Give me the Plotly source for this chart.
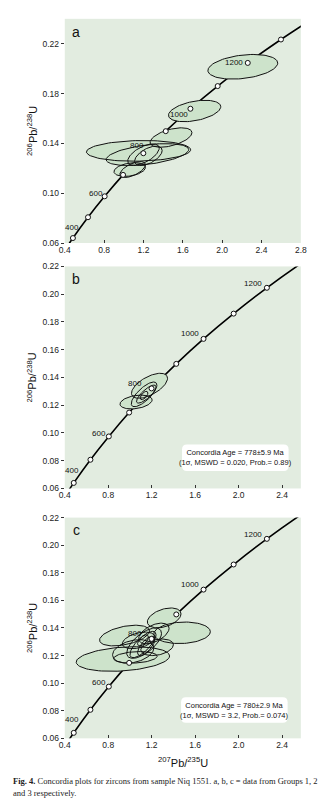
import numpy as np
import plotly.graph_objects as go

# ---------------- data ----------------
# Concordia curve points (age in Ma -> 207Pb/235U, 206Pb/238U)
conc_age = [300, 400, 500, 600, 700, 800, 900, 1000, 1100, 1200, 1300, 1400]
conc_x = [0.3438, 0.4828, 0.6362, 0.8056, 0.9925, 1.1987, 1.4264, 1.6774, 1.9546, 2.2604, 2.5978, 2.9702]
conc_y = [0.0476, 0.0640, 0.0807, 0.0975, 0.1147, 0.1321, 0.1498, 0.1678, 0.1860, 0.2046, 0.2234, 0.2426]
label_ages = [400, 600, 800, 1000, 1200]

# Panel a (Group 1) error ellipses: centre, half-width, half-height, correlation
a_x = [2.21, 1.72, 1.48, 1.15, 1.24, 1.20, 1.25, 1.06, 1.09]
a_y = [0.2015, 0.1660, 0.1447, 0.1340, 0.1310, 0.1310, 0.1300, 0.1190, 0.1190]
a_sx = [0.355, 0.266, 0.213, 0.530, 0.420, 0.160, 0.140, 0.160, 0.130]
a_sy = [0.0099, 0.0086, 0.0078, 0.0083, 0.0088, 0.0086, 0.0078, 0.0055, 0.0064]
a_rho = [0.30, 0.40, 0.50, 0.10, 0.45, 0.60, 0.55, 0.30, 0.60]

# Panel b (Group 2)
b_x = [1.18, 1.056, 1.13, 1.15, 1.13]
b_y = [0.1340, 0.1223, 0.1278, 0.1280, 0.1270]
b_sx = [0.166, 0.148, 0.118, 0.090, 0.035]
b_sy = [0.0090, 0.0050, 0.0089, 0.0065, 0.0030]
b_rho = [0.60, 0.30, 0.75, 0.80, 0.60]

# Panel c (Group 3)
c_x = [0.935, 1.48, 1.315, 0.95, 1.03, 1.05, 1.13, 1.12, 1.22, 1.08, 1.15, 1.12, 1.25]
c_y = [0.1175, 0.1365, 0.1473, 0.1345, 0.1230, 0.1187, 0.1290, 0.1280, 0.1360, 0.1310, 0.1270, 0.1310, 0.1260]
c_sx = [0.430, 0.260, 0.155, 0.230, 0.190, 0.200, 0.160, 0.120, 0.140, 0.150, 0.080, 0.050, 0.150]
c_sy = [0.0089, 0.0078, 0.0072, 0.0075, 0.0085, 0.0042, 0.0110, 0.0095, 0.0075, 0.0060, 0.0070, 0.0040, 0.0060]
c_rho = [0.25, 0.10, 0.40, 0.44, 0.30, 0.20, 0.65, 0.75, 0.50, 0.40, 0.70, 0.60, 0.30]

panel_letters = ["a", "b", "c"]
concordia_texts = [
    None,
    "Concordia Age = 778±5.9 Ma<br>(1σ, MSWD = 0.020, Prob.= 0.89)",
    "Concordia Age = 780±2.9 Ma<br>(1σ, MSWD = 3.2, Prob.= 0.074)",
]
caption_1 = "<b>Fig. 4.</b> Concordia plots for zircons from sample Niq 1551. a, b, c = data from Groups 1, 2"
caption_2 = "and 3 respectively."

# ---------------- styling ----------------
W, H = 329, 811
BG = "#e2ece0"
FILL = "#cde3cb"
FONT = "Liberation Sans, Arial, sans-serif"


def px2paper_x(p):
    return p / W


def px2paper_y(p):
    return 1 - p / H


x_dom = [px2paper_x(61), px2paper_x(306)]
panels = [
    dict(ytop=14, ybot=241, xr=[0.4, 2.8], yr=[0.06, 0.24], ydt=0.04, yfmt=".2f",
         ell=(a_x, a_y, a_sx, a_sy, a_rho), box=None,
         offs={400: (-1, 11), 600: (-9, 3), 800: (-6, 8), 1000: (-11, -6), 1200: (-14, 0)}),
    dict(ytop=264.7, ybot=489.5, xr=[0.4, 2.573], yr=[0.06, 0.22], ydt=0.02, yfmt=".2f",
         ell=(b_x, b_y, b_sx, b_sy, b_rho), box=(182.7, 293.3, 445, 471.7),
         offs={400: (-2, 12), 600: (-10, 3), 800: (-17, 5), 1000: (-14, 5), 1200: (-14, 4)}),
    dict(ytop=519, ybot=742.5, xr=[0.4, 2.573], yr=[0.06, 0.22], ydt=0.02, yfmt=".2f",
         ell=(c_x, c_y, c_sx, c_sy, c_rho), box=(181.7, 292.3, 701, 726.7),
         offs={400: (-2, 13), 600: (-10, 4), 800: (-17, 5), 1000: (-14, 5), 1200: (-14, 4)}),
]


def ellipse(cx, cy, sx, sy, rho, n=90):
    t = np.linspace(0, 2 * np.pi, n)
    x = cx + sx * np.cos(t)
    y = cy + sy * (rho * np.cos(t) + np.sqrt(1 - rho ** 2) * np.sin(t))
    return x, y


def rounded_rect_path(x0, x1, y0, y1, r=4):
    # pixel box -> paper path with rounded corners
    X = lambda v: px2paper_x(v)
    Y = lambda v: px2paper_y(v)
    return (f"M {X(x0 + r)} {Y(y0)} L {X(x1 - r)} {Y(y0)} Q {X(x1)} {Y(y0)} {X(x1)} {Y(y0 + r)} "
            f"L {X(x1)} {Y(y1 - r)} Q {X(x1)} {Y(y1)} {X(x1 - r)} {Y(y1)} "
            f"L {X(x0 + r)} {Y(y1)} Q {X(x0)} {Y(y1)} {X(x0)} {Y(y1 - r)} "
            f"L {X(x0)} {Y(y0 + r)} Q {X(x0)} {Y(y0)} {X(x0 + r)} {Y(y0)} Z")


fig = go.Figure()
annotations = []
shapes = []

for i, p in enumerate(panels):
    sfx = "" if i == 0 else str(i + 1)
    xa, ya = "x" + sfx, "y" + sfx
    # concordia curve
    fig.add_trace(go.Scatter(x=conc_x, y=conc_y, mode="lines", xaxis=xa, yaxis=ya,
                             line=dict(color="black", width=1.6, shape="spline", smoothing=1.0),
                             hoverinfo="skip", showlegend=False))
    ex, ey, esx, esy, erho = p["ell"]
    # fills first
    for k in range(len(ex)):
        x, y = ellipse(ex[k], ey[k], esx[k], esy[k], erho[k])
        fig.add_trace(go.Scatter(x=x, y=y, mode="lines", fill="toself", fillcolor=FILL,
                                 line=dict(width=0, color=FILL), xaxis=xa, yaxis=ya,
                                 hoverinfo="skip", showlegend=False))
    # outlines
    for k in range(len(ex)):
        x, y = ellipse(ex[k], ey[k], esx[k], esy[k], erho[k])
        fig.add_trace(go.Scatter(x=x, y=y, mode="lines",
                                 line=dict(width=1, color="#111111"), xaxis=xa, yaxis=ya,
                                 hoverinfo="skip", showlegend=False))
    # age markers
    mx = [conc_x[j] for j, a in enumerate(conc_age) if 400 <= a <= 1300]
    my = [conc_y[j] for j, a in enumerate(conc_age) if 400 <= a <= 1300]
    fig.add_trace(go.Scatter(x=mx, y=my, mode="markers", xaxis=xa, yaxis=ya,
                             marker=dict(symbol="circle", size=5, color="white",
                                         line=dict(color="#111111", width=1)),
                             hoverinfo="skip", showlegend=False))
    # age labels
    for a in label_ages:
        j = conc_age.index(a)
        dx, dy = p["offs"][a]
        annotations.append(dict(x=conc_x[j], y=conc_y[j], xref=xa, yref=ya, text=str(a),
                                showarrow=False, xanchor="center", yanchor="middle",
                                xshift=dx, yshift=dy,
                                font=dict(family=FONT, size=8, color="#111111")))
    # panel letter
    annotations.append(dict(x=px2paper_x(73), y=px2paper_y(p["ytop"] + 13), xref="paper", yref="paper",
                            text=panel_letters[i], showarrow=False, xanchor="center", yanchor="middle",
                            font=dict(family=FONT, size=14, color="#111111")))
    # y title
    annotations.append(dict(x=px2paper_x(27), y=px2paper_y((p["ytop"] + p["ybot"]) / 2),
                            xref="paper", yref="paper", textangle=-90,
                            text="<sup>206</sup>Pb/<sup>238</sup>U", showarrow=False,
                            xanchor="center", yanchor="middle",
                            font=dict(family=FONT, size=11, color="#111111")))
    # concordia age box
    if p["box"]:
        bx0, bx1, by0, by1 = p["box"]
        shapes.append(dict(type="path", xref="paper", yref="paper",
                           path=rounded_rect_path(bx0, bx1, by0, by1, 5),
                           fillcolor="white", line=dict(width=0), layer="above"))
        annotations.append(dict(x=px2paper_x((bx0 + bx1) / 2), y=px2paper_y((by0 + by1) / 2),
                                xref="paper", yref="paper",
                                text=concordia_texts[i], showarrow=False, align="center",
                                xanchor="center", yanchor="middle",
                                font=dict(family=FONT, size=7.5, color="#111111")))

    ydom = [px2paper_y(p["ybot"]), px2paper_y(p["ytop"])]
    axis_font = dict(family=FONT, size=8.5, color="#222222")
    fig.update_layout(**{
        "xaxis" + sfx: dict(domain=x_dom, range=p["xr"], anchor=ya, tick0=0.4, dtick=0.4,
                            tickformat=".1f", ticks="inside", ticklen=3, tickcolor="#333333",
                            showgrid=False, zeroline=False, showline=False, tickfont=axis_font),
        "yaxis" + sfx: dict(domain=ydom, range=p["yr"], anchor=xa, tick0=0.06, dtick=p["ydt"],
                            tickformat=p["yfmt"], ticks="outside", ticklen=3, tickcolor="#333333",
                            showgrid=False, zeroline=False, showline=False, tickfont=axis_font),
    })

# x title
annotations.append(dict(x=px2paper_x(184), y=px2paper_y(766.7), xref="paper", yref="paper",
                        text="<sup>207</sup>Pb/<sup>235</sup>U", showarrow=False,
                        xanchor="center", yanchor="middle",
                        font=dict(family=FONT, size=11, color="#111111")))
# caption
cap_font = dict(family="Liberation Serif, Times New Roman, serif", size=8.5, color="#222222")
annotations.append(dict(x=px2paper_x(5), y=px2paper_y(785.7), xref="paper", yref="paper",
                        text=caption_1, showarrow=False, xanchor="left", yanchor="middle", font=cap_font))
annotations.append(dict(x=px2paper_x(5), y=px2paper_y(797.7), xref="paper", yref="paper",
                        text=caption_2, showarrow=False, xanchor="left", yanchor="middle", font=cap_font))

fig.update_layout(width=W, height=H, margin=dict(l=0, r=0, t=0, b=0),
                  paper_bgcolor="white", plot_bgcolor=BG, showlegend=False,
                  annotations=annotations, shapes=shapes)

fig.write_html("out.html", config={"displayModeBar": False})
